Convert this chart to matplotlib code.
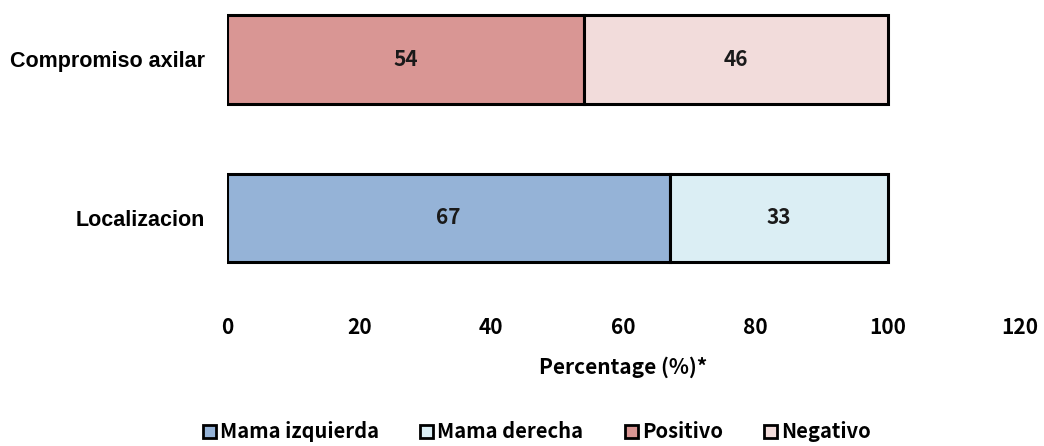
import matplotlib; matplotlib.use("Agg")
import matplotlib.pyplot as plt
from matplotlib.patches import Patch

categories = ["Localizacion", "Compromiso axilar"]
first_vals = [67, 54]
second_vals = [33, 46]
first_names = ["Mama izquierda", "Positivo"]
second_names = ["Mama derecha", "Negativo"]
first_colors = ["#95b3d7", "#d99694"]
second_colors = ["#dbeef4", "#f2dcdb"]
xticks = [0, 20, 40, 60, 80, 100, 120]

JP = ["Noto Sans CJK JP", "DejaVu Sans"]
fig = plt.figure(figsize=(10.44, 4.46), dpi=100)
ax = fig.add_axes([227 / 1044, 1 - 313 / 446, (1020 - 227) / 1044, (313 - 4) / 446])

pos = list(range(len(categories)))
ax.barh(pos, first_vals, height=0.56, color=first_colors, edgecolor="black", linewidth=2.2)
ax.barh(pos, second_vals, left=first_vals, height=0.56, color=second_colors,
        edgecolor="black", linewidth=2.2)
for p, a, b in zip(pos, first_vals, second_vals):
    ax.text(a / 2, p, str(a), ha="center", va="center", fontsize=15, fontweight="bold",
            family=JP, color="#1a1a1a")
    ax.text(a + b / 2, p, str(b), ha="center", va="center", fontsize=15, fontweight="bold",
            family=JP, color="#1a1a1a")

ax.set_xlim(0, 120)
ax.set_ylim(-0.6, 1.35)
ax.set_xticks(xticks)
ax.set_xticklabels([str(t) for t in xticks], family=JP, fontsize=15, fontweight="bold")
ax.set_yticks(pos)
ax.set_yticklabels(categories, family="Liberation Sans", fontsize=15.5, fontweight="bold")
ax.tick_params(length=0)
ax.tick_params(axis="x", pad=3)
ax.tick_params(axis="y", pad=16)
for s in ax.spines.values():
    s.set_visible(False)
ax.set_xlabel("Percentage (%)*", family=JP, fontsize=15, fontweight="bold", labelpad=13)

handles = [Patch(facecolor=c, edgecolor="black", linewidth=2, label=n)
           for c, n in [(first_colors[0], first_names[0]), (second_colors[0], second_names[0]),
                        (first_colors[1], first_names[1]), (second_colors[1], second_names[1])]]
fig.legend(handles=handles, loc="center", bbox_to_anchor=(537 / 1044, 1 - 432 / 446), ncol=4,
           frameon=False, handlelength=0.65, handleheight=0.65, handletextpad=0.2,
           columnspacing=2.05, prop={"family": JP, "size": 14.5, "weight": "bold"})

fig.savefig("out.png", dpi=100)
